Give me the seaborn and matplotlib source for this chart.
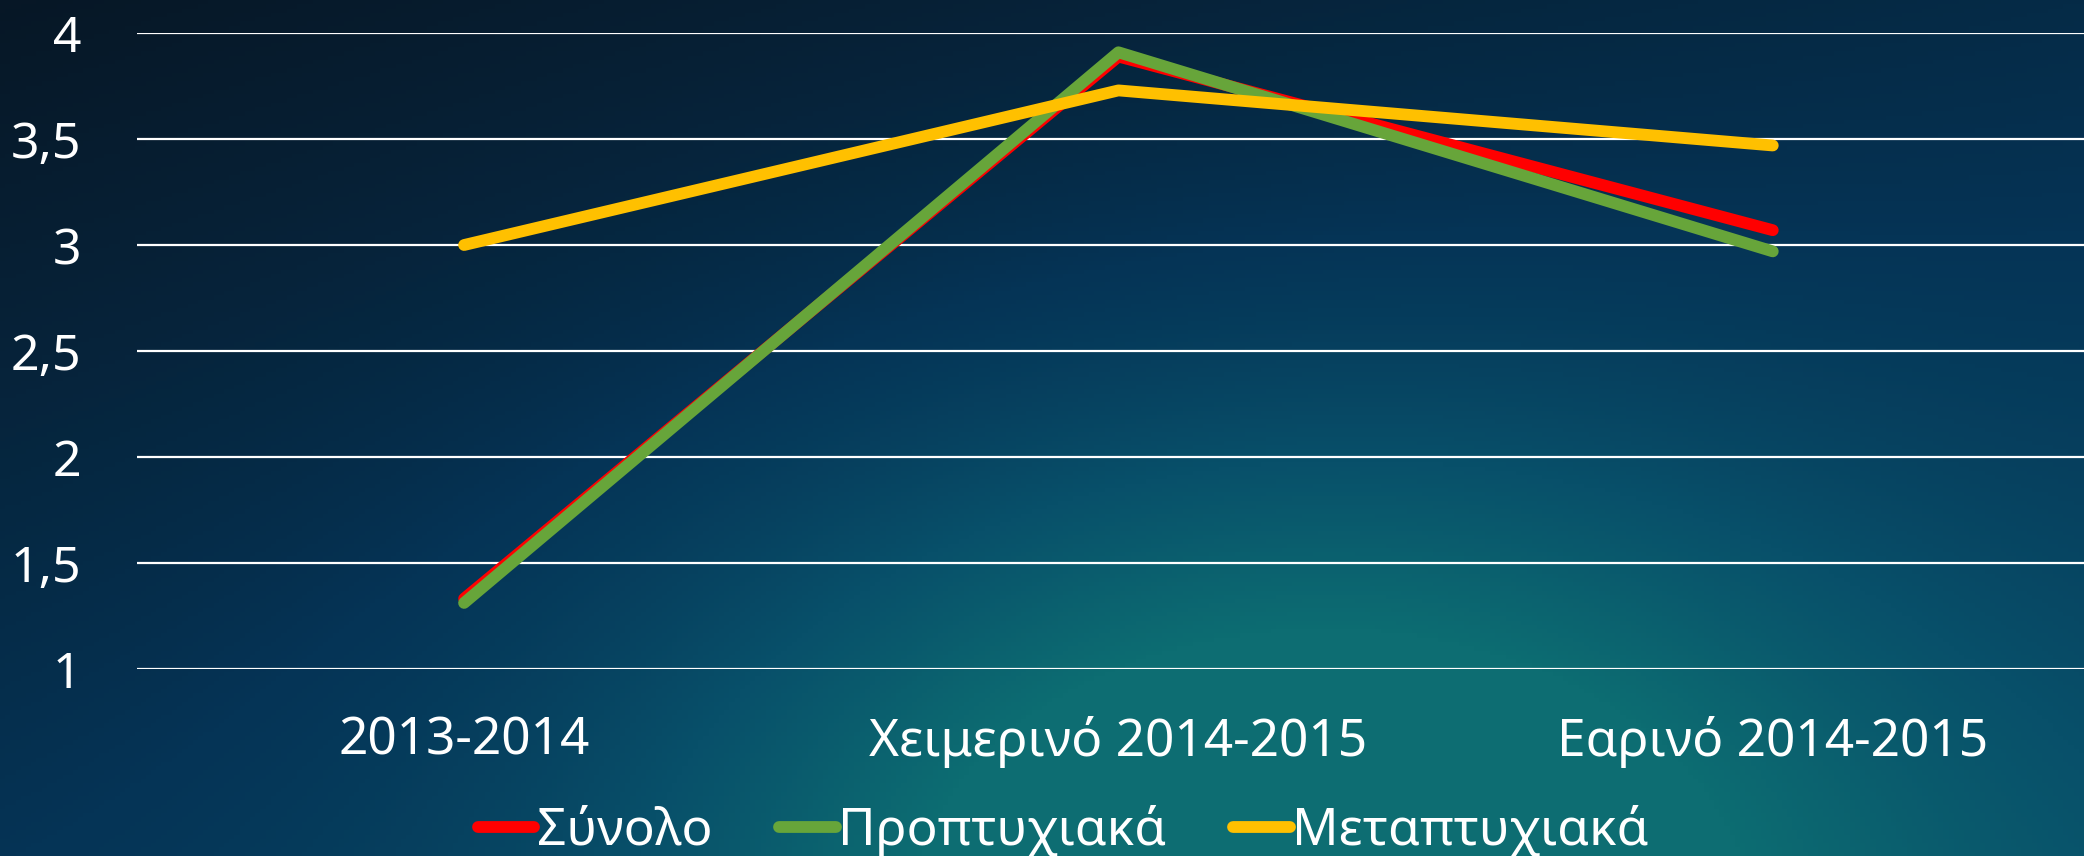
import numpy as np
import pandas as pd
import seaborn as sns
import matplotlib.pyplot as plt
from matplotlib.colors import LinearSegmentedColormap

periods = ["2013-2014", "Χειμερινό 2014-2015", "Εαρινό 2014-2015"]
synolo = [1.33, 3.89, 3.07]
proptyxiaka = [1.31, 3.91, 2.97]
metaptyxiaka = [3.00, 3.73, 3.47]
series_names = ["Σύνολο", "Προπτυχιακά", "Μεταπτυχιακά"]
colors = ["#FF0000", "#67A53A", "#FFC000"]
y_ticks = [1, 1.5, 2, 2.5, 3, 3.5, 4]

df = pd.DataFrame({
    "period": periods * 3,
    "value": synolo + proptyxiaka + metaptyxiaka,
    "series": [s for s in series_names for _ in periods],
})

sns.set_theme(style="white")
plt.rcParams["font.family"] = ["Noto Sans", "DejaVu Sans"]

fig = plt.figure(figsize=(20.84, 8.56), dpi=100)

# dark blue background with a teal glow near the bottom
bg = fig.add_axes([0, 0, 1, 1], zorder=-10)
gx, gy = np.meshgrid(np.linspace(0, 1, 400), np.linspace(0, 1, 200))
glow = np.exp(-((gx - 0.62) ** 2) / 0.09 - ((gy - 1.0) ** 2) / 0.25)
shade = 0.35 * gy + 0.25 * gx + 0.9 * glow
cmap = LinearSegmentedColormap.from_list("bg", ["#071726", "#053456", "#08506a", "#0d6d72"])
bg.imshow(shade, cmap=cmap, aspect="auto", extent=[0, 1, 0, 1], origin="upper", vmin=0, vmax=1.1)
bg.axis("off")

ax = fig.add_axes([103 / 1568, 1 - 503 / 644, (1580 - 103) / 1568, (503 - 25) / 644])
ax.set_facecolor("none")

sns.lineplot(data=df, x="period", y="value", hue="series", hue_order=series_names,
             palette=colors, linewidth=8.5, solid_capstyle="round", sort=False, ax=ax)

ax.set_ylim(1, 4)
ax.set_xlim(-0.5, 2.5)
ax.set_yticks(y_ticks)
ax.set_yticklabels([f"{t:g}".replace(".", ",") for t in y_ticks])
ax.grid(axis="y", color="white", linewidth=1.6)
ax.set_axisbelow(True)
for s in ax.spines.values():
    s.set_visible(False)
ax.tick_params(axis="y", colors="white", labelsize=36, pad=40, length=0)
ax.tick_params(axis="x", colors="white", labelsize=37, pad=34, length=0)
ax.set_xlabel("")
ax.set_ylabel("")

handles, labels = ax.get_legend_handles_labels()
ax.get_legend().remove()
leg = fig.legend(handles, labels, loc="center", bbox_to_anchor=(800 / 1568, 1 - 625 / 644),
                 ncol=3, frameon=False, fontsize=37, handlelength=1.1, handletextpad=0.05,
                 columnspacing=1.3, labelcolor="white")
for h in leg.get_lines():
    h.set_linewidth(8.5)
    h.set_solid_capstyle("round")

fig.savefig("out.png", dpi=100)
